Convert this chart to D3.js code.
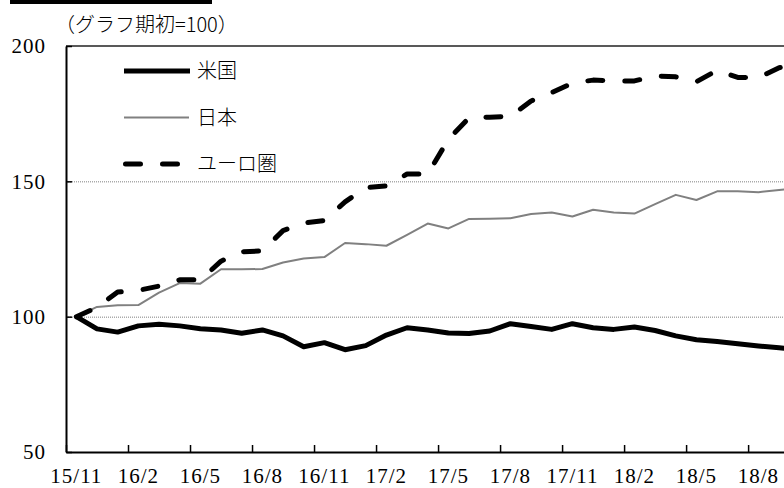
<!DOCTYPE html>
<html>
<head>
<meta charset="utf-8">
<script src="https://cdn.jsdelivr.net/npm/d3@7/dist/d3.min.js"></script>
<style>
  body { margin: 0; background: #fff; }
  svg { display: block; }
</style>
</head>
<body>
<div id="chart"></div>
<script>
// months, first one = 100
var months = ["15/11","15/12","16/1","16/2","16/3","16/4","16/5","16/6","16/7","16/8","16/9","16/10",
              "16/11","16/12","17/1","17/2","17/3","17/4","17/5","17/6","17/7","17/8","17/9","17/10",
              "17/11","17/12","18/1","18/2","18/3","18/4","18/5","18/6","18/7","18/8","18/9","18/10"];

var usa   = [100, 95.5, 94.3, 96.6, 97.2, 96.6, 95.5, 95.1, 93.9, 95.1, 92.9, 88.9,
             90.4, 87.8, 89.3, 93.2, 95.9, 95.1, 94.0, 93.8, 94.7, 97.4, 96.4, 95.3,
             97.4, 95.9, 95.3, 96.2, 94.9, 92.9, 91.5, 90.8, 90.0, 89.2, 88.5, 87.8];

var japan = [100, 103.6, 104.2, 104.3, 108.9, 112.4, 112.2, 117.5, 117.5, 117.6, 120.0, 121.5,
             122.0, 127.2, 126.8, 126.2, 130.2, 134.4, 132.6, 136.1, 136.2, 136.4, 137.9, 138.5,
             137.0, 139.5, 138.5, 138.1, 141.6, 145.0, 143.1, 146.3, 146.3, 146.0, 146.8, 147.5];

var euro  = [100, 103.4, 109.1, 109.7, 111.3, 113.6, 113.6, 120.5, 124.0, 124.3, 131.8, 134.6,
             135.5, 142.4, 147.7, 148.3, 152.7, 152.7, 165.5, 173.5, 173.7, 174.0, 179.7, 182.8,
             186.3, 187.4, 187.1, 187.1, 188.9, 188.6, 186.8, 191.0, 188.4, 188.3, 192.0, 193.0];

var yTicks  = [50, 100, 150, 200];
var gridAt  = [100, 150];
var xLabels = ["15/11","16/2","16/5","16/8","16/11","17/2","17/5","17/8","17/11","18/2","18/5","18/8"];

var width = 784, height = 488;
var margin = {top: 46, left: 66};
var monthW = 20.67;
var plotW = months.length * monthW,
    plotH = 406;

var numFont = "'Liberation Serif', 'DejaVu Serif', serif";
var jpFont = "'Noto Sans CJK JP', sans-serif";

var svg = d3.select("#chart").append("svg")
  .attr("width", width)
  .attr("height", height);

// cut-off title underline at the very top
svg.append("rect").attr("x", 10).attr("y", 0).attr("width", 202).attr("height", 4).attr("fill", "#000");

svg.append("text")
  .style("font-family", jpFont).style("font-size", "20px").style("font-weight", 300)
  .attr("x", 55).attr("y", 25).attr("dy", "0.35em")
  .text("（グラフ期初=100）");

var g = svg.append("g").attr("transform", "translate(" + margin.left + "," + margin.top + ")");

var x  = d3.scaleBand().domain(months).range([0, plotW]);
var xi = d3.scaleLinear().domain([0, months.length]).range([0, plotW]);
var y  = d3.scaleLinear().domain([50, 200]).range([plotH, 0]);

// dotted grid
g.selectAll(".grid").data(gridAt).enter().append("line")
  .attr("x1", 0).attr("x2", plotW)
  .attr("y1", function (d) { return y(d) + 0.5; })
  .attr("y2", function (d) { return y(d) + 0.5; })
  .attr("stroke", "#808080").attr("stroke-width", 1).attr("stroke-dasharray", "1,1");

// plot area top border
g.append("line").attr("x1", 0).attr("x2", plotW).attr("y1", y(200)).attr("y2", y(200))
  .attr("stroke", "#222").attr("stroke-width", 1.5);

// y axis
var yAxis = g.append("g")
  .call(d3.axisLeft(y).tickValues(yTicks).tickSizeInner(-6).tickSizeOuter(0).tickPadding(20));
yAxis.select(".domain").attr("stroke", "#000").attr("stroke-width", 2);
yAxis.selectAll(".tick line").attr("stroke", "#000").attr("stroke-width", 1.5);
yAxis.selectAll("text")
  .style("font-family", numFont).style("font-size", "21px").style("letter-spacing", "1px").attr("fill", "#000");

// x axis ticks on month boundaries
var xTicks = g.append("g").attr("transform", "translate(0," + plotH + ")")
  .call(d3.axisBottom(xi).tickValues(d3.range(0, months.length, 3)).tickSize(-7).tickSizeOuter(0).tickFormat(""));
xTicks.select(".domain").attr("stroke", "#000").attr("stroke-width", 2);
xTicks.selectAll(".tick line").attr("stroke", "#000").attr("stroke-width", 1.5);

// x labels in the middle of their month
var xLab = g.append("g").attr("transform", "translate(0," + plotH + ")")
  .call(d3.axisBottom(x).tickValues(xLabels).tickSize(0).tickPadding(16));
xLab.select(".domain").remove();
xLab.selectAll("text")
  .style("font-family", numFont).style("font-size", "21px").style("letter-spacing", "1px").attr("fill", "#000");

var line = d3.line()
  .x(function (d, i) { return x(months[i]) + x.bandwidth() / 2; })
  .y(function (d) { return y(d); });

g.append("path").datum(japan).attr("d", line)
  .attr("fill", "none").attr("stroke", "#808080").attr("stroke-width", 2).attr("stroke-linejoin", "round");

g.append("path").datum(euro).attr("d", line)
  .attr("fill", "none").attr("stroke", "#000").attr("stroke-width", 5)
  .attr("stroke-linecap", "round").attr("stroke-linejoin", "round").attr("stroke-dasharray", "15,22");

g.append("path").datum(usa).attr("d", line)
  .attr("fill", "none").attr("stroke", "#000").attr("stroke-width", 5).attr("stroke-linejoin", "round");

// legend
var legend = [
  {name: "米国", y: 71, stroke: "#000", w: 5, dash: null, cap: "butt", x1: 124, x2: 190},
  {name: "日本", y: 117.5, stroke: "#808080", w: 2, dash: null, cap: "butt", x1: 124, x2: 189},
  {name: "ユーロ圏", y: 164, stroke: "#000", w: 5, dash: "15,22", cap: "round", x1: 125.5, x2: 180}
];
var lg = svg.append("g");
legend.forEach(function (d) {
  lg.append("line").attr("x1", d.x1).attr("x2", d.x2).attr("y1", d.y).attr("y2", d.y)
    .attr("stroke", d.stroke).attr("stroke-width", d.w)
    .attr("stroke-linecap", d.cap).attr("stroke-dasharray", d.dash);
  lg.append("text")
    .style("font-family", jpFont).style("font-size", "20px").style("font-weight", 300)
    .attr("x", 197).attr("y", d.y).attr("dy", "0.36em").text(d.name);
});
</script>
</body>
</html>
